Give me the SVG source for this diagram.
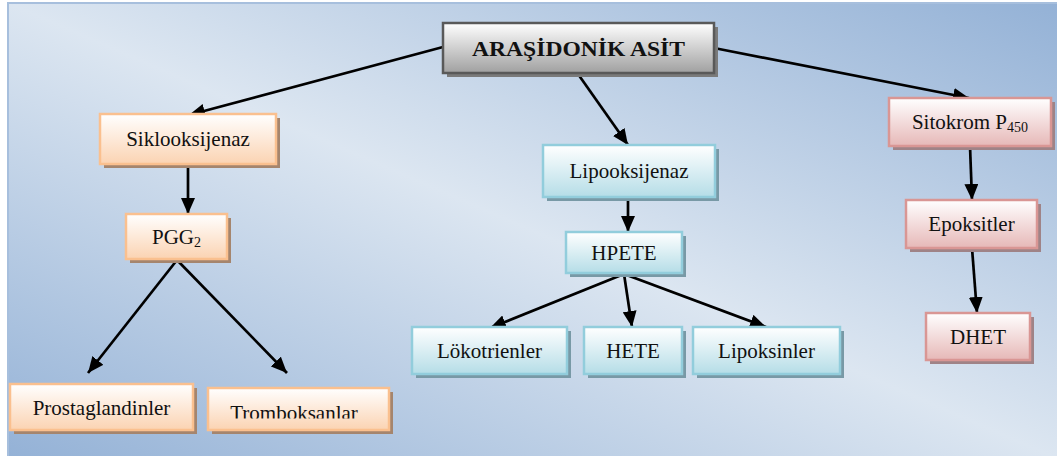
<svg xmlns="http://www.w3.org/2000/svg" width="1057" height="456" viewBox="0 0 1057 456">
<defs>
<linearGradient id="bg" x1="1" y1="0" x2="0" y2="1">
<stop offset="0" stop-color="#93b1d6"/>
<stop offset="0.5" stop-color="#dce6f1"/>
<stop offset="1" stop-color="#93b1d6"/>
</linearGradient>
<linearGradient id="gOr" x1="0" y1="0" x2="0" y2="1">
<stop offset="0" stop-color="#ffffff"/>
<stop offset="1" stop-color="#fbd3b2"/>
</linearGradient>
<linearGradient id="gCy" x1="0" y1="0" x2="0" y2="1">
<stop offset="0" stop-color="#ffffff"/>
<stop offset="1" stop-color="#b5dde7"/>
</linearGradient>
<linearGradient id="gPk" x1="0" y1="0" x2="0" y2="1">
<stop offset="0" stop-color="#ffffff"/>
<stop offset="1" stop-color="#e6b8b7"/>
</linearGradient>
<linearGradient id="gGr" x1="0" y1="0" x2="0" y2="1">
<stop offset="0" stop-color="#ffffff"/>
<stop offset="1" stop-color="#a0a0a0"/>
</linearGradient>
<marker id="ah" markerUnits="userSpaceOnUse" markerWidth="16" markerHeight="14" viewBox="0 0 16 14" refX="16" refY="7" orient="auto">
<path d="M0,0 L16,7 L0,14 z" fill="#000"/>
</marker>
<clipPath id="clipTr"><rect x="200" y="380" width="200" height="38.5"/></clipPath>
</defs>
<style>
.t{font-size:21px;fill:#111;text-anchor:middle}
.or{fill:url(#gOr);stroke:#fac08f;stroke-width:2.5}
.cy{fill:url(#gCy);stroke:#92cddc;stroke-width:2.5}
.pk{fill:url(#gPk);stroke:#d99694;stroke-width:2.5}
.gr{fill:url(#gGr);stroke:#595959;stroke-width:2.5}
.sOr{fill:#a5856d}
.sCy{fill:#7899a6}
.sPk{fill:#9f8387}
.sGr{fill:#7a7a7a}
.c line{stroke:#000;stroke-width:2.7;marker-end:url(#ah)}
</style>
<rect x="8" y="3" width="1060" height="460" fill="url(#bg)" stroke="#a7bfdd" stroke-width="2"/>
<g class="c" id="connectors">
<line x1="443" y1="47" x2="189" y2="115"/>
<line x1="578" y1="74" x2="628" y2="145"/>
<line x1="714" y1="48" x2="969" y2="98"/>
<line x1="188" y1="165" x2="188" y2="214"/>
<line x1="177" y1="260" x2="88" y2="373"/>
<line x1="177" y1="260" x2="287" y2="373"/>
<line x1="628" y1="197" x2="628" y2="232"/>
<line x1="624" y1="274" x2="490" y2="328"/>
<line x1="624" y1="274" x2="632" y2="327"/>
<line x1="624" y1="274" x2="766" y2="327"/>
<line x1="970" y1="146" x2="972" y2="200"/>
<line x1="972" y1="248" x2="977" y2="313"/>
</g>
<g font-family="'Liberation Serif', 'Times New Roman', 'DejaVu Serif', serif">
<g id="root">
<rect class="sGr" x="447" y="27" width="271" height="50"/>
<rect class="gr" x="443" y="23" width="271" height="50"/>
<text class="t" x="578.5" y="56" font-weight="bold" font-size="23" textLength="213" lengthAdjust="spacingAndGlyphs">ARAŞİDONİK ASİT</text>
</g>
<g id="siklooksijenaz">
<rect class="sOr" x="104" y="118" width="176" height="50"/>
<rect class="or" x="100" y="114" width="176" height="50"/>
<text class="t" x="188" y="146">Siklooksijenaz</text>
</g>
<g id="lipooksijenaz">
<rect class="sCy" x="547" y="149" width="172" height="52"/>
<rect class="cy" x="543" y="145" width="172" height="52"/>
<text class="t" x="629" y="178">Lipooksijenaz</text>
</g>
<g id="sitokrom">
<rect class="sPk" x="893" y="102" width="162" height="48"/>
<rect class="pk" x="889" y="98" width="162" height="48"/>
<text class="t" x="970" y="129">Sitokrom P<tspan font-size="14" dy="3">450</tspan></text>
</g>
<g id="pgg2">
<rect class="sOr" x="130" y="218" width="101" height="45"/>
<rect class="or" x="126" y="214" width="101" height="45"/>
<text class="t" x="176.5" y="244">PGG<tspan font-size="14" dy="3">2</tspan></text>
</g>
<g id="prostaglandinler">
<rect class="sOr" x="14" y="388" width="183" height="46"/>
<rect class="or" x="10" y="384" width="183" height="46"/>
<text class="t" x="101.5" y="415">Prostaglandinler</text>
</g>
<g id="tromboksanlar">
<rect class="sOr" x="212" y="392" width="181" height="42"/>
<rect class="or" x="208" y="388" width="181" height="42"/>
<text class="t" x="294" y="420" clip-path="url(#clipTr)">Tromboksanlar</text>
</g>
<g id="hpete">
<rect class="sCy" x="570" y="236" width="116" height="41"/>
<rect class="cy" x="566" y="232" width="116" height="41"/>
<text class="t" x="624" y="260">HPETE</text>
</g>
<g id="lokotrienler">
<rect class="sCy" x="416" y="331" width="155" height="47"/>
<rect class="cy" x="412" y="327" width="155" height="47"/>
<text class="t" x="489.5" y="358">Lökotrienler</text>
</g>
<g id="hete">
<rect class="sCy" x="588" y="331" width="98" height="47"/>
<rect class="cy" x="584" y="327" width="98" height="47"/>
<text class="t" x="633" y="358">HETE</text>
</g>
<g id="lipoksinler">
<rect class="sCy" x="697" y="331" width="147" height="47"/>
<rect class="cy" x="693" y="327" width="147" height="47"/>
<text class="t" x="766.5" y="358">Lipoksinler</text>
</g>
<g id="epoksitler">
<rect class="sPk" x="910" y="204" width="131" height="48"/>
<rect class="pk" x="906" y="200" width="131" height="48"/>
<text class="t" x="971.5" y="231">Epoksitler</text>
</g>
<g id="dhet">
<rect class="sPk" x="930" y="317" width="104" height="47"/>
<rect class="pk" x="926" y="313" width="104" height="47"/>
<text class="t" x="978" y="344">DHET</text>
</g>
</g>
</svg>
